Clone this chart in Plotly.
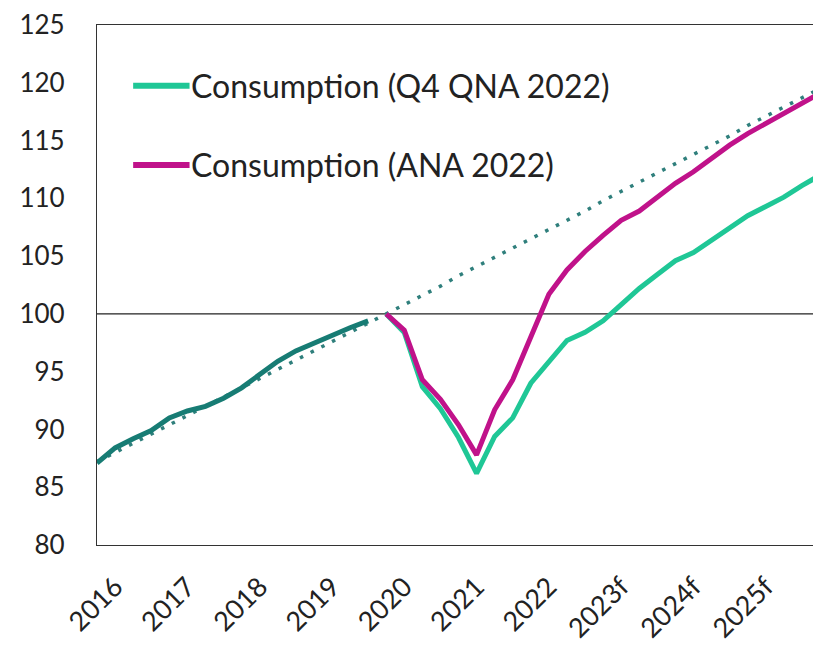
import plotly.graph_objects as go

# Quarterly observations from 2015 Q4 to 2025 Q4 (x = year fraction)
quarters = [2015.75 + 0.25 * i for i in range(41)]

year_ticks = [2016, 2017, 2018, 2019, 2020, 2021, 2022, 2023, 2024, 2025]
year_labels = ["2016", "2017", "2018", "2019", "2020", "2021", "2022", "2023f", "2024f", "2025f"]

# Pre-pandemic consumption (2015 Q4 - 2019 Q3)
pre_covid = [87.1, 88.4, 89.2, 89.9, 91.0, 91.6, 92.0, 92.7, 93.6, 94.7,
             95.9, 96.8, 97.5, 98.1, 98.8, 99.4]

# Trend (whole period)
trend = [87.2, 88.0, 88.8, 89.6, 90.4, 91.2, 92.0, 92.8, 93.6, 94.4,
         95.2, 96.0, 96.8, 97.6, 98.4, 99.2, 100.0, 100.8, 101.6, 102.4,
         103.3, 104.1, 104.9, 105.7, 106.5, 107.3, 108.1, 108.9, 109.8, 110.6,
         111.4, 112.2, 113.0, 113.8, 114.6, 115.4, 116.3, 117.1, 117.9, 118.7,
         119.5]

# From 2019 Q4 onwards
qna_2022 = [100.0, 98.4, 93.7, 91.8, 89.3, 86.2, 89.4, 91.0, 94.0, 95.9,
            97.7, 98.4, 99.4, 100.8, 102.2, 103.4, 104.6, 105.3, 106.4, 107.5,
            108.5, 109.3, 110.1, 111.1, 112.0]
ana_2022 = [100.0, 98.6, 94.3, 92.6, 90.4, 87.8, 91.7, 94.3, 98.0, 101.7,
            103.8, 105.4, 106.8, 108.1, 108.9, 110.1, 111.3, 112.3, 113.5, 114.6,
            115.6, 116.5, 117.4, 118.3, 119.1]

name_qna = "Consumption (Q4 QNA 2022)"
name_ana = "Consumption (ANA 2022)"

col_qna = "#1fc796"
col_ana = "#c0128a"
font_family = "Lato, 'Open Sans', sans-serif"

fig = go.Figure()
fig.add_trace(go.Scatter(x=quarters, y=trend, mode="lines",
                         line=dict(color="#2f7f7c", width=3.5, dash="3.5px,8.5px"),
                         showlegend=False, hoverinfo="skip"))
fig.add_trace(go.Scatter(x=quarters[:len(pre_covid)], y=pre_covid, mode="lines",
                         line=dict(color="#177c74", width=5),
                         showlegend=False))
fig.add_trace(go.Scatter(x=quarters[16:], y=qna_2022, mode="lines", name=name_qna,
                         line=dict(color=col_qna, width=5), showlegend=False))
fig.add_trace(go.Scatter(x=quarters[16:], y=ana_2022, mode="lines", name=name_ana,
                         line=dict(color=col_ana, width=5), showlegend=False))

fig.add_hline(y=100, line=dict(color="#222222", width=1.3), layer="below")

# Legend drawn inside the plot (sample line + text)
legend_items = [(name_qna, col_qna, 0.883), (name_ana, col_ana, 0.731)]
for label, col, yy in legend_items:
    fig.add_shape(type="line", xref="paper", yref="paper",
                  x0=0.050, x1=0.128, y0=yy, y1=yy,
                  line=dict(color=col, width=6))
    fig.add_annotation(xref="paper", yref="paper", x=0.127, y=yy,
                       xanchor="left", yanchor="middle", text=label,
                       showarrow=False,
                       font=dict(size=32, family=font_family, color="#222222"))

# The page body adds an 8px margin, so the figure is sized to fit the window
fig.update_layout(
    width=813, height=642,
    margin=dict(l=89, r=1, t=17, b=105),
    paper_bgcolor="white", plot_bgcolor="white",
    font=dict(family=font_family, color="#222222"),
    showlegend=False,
    xaxis=dict(range=[2015.75, 2025.75], tickmode="array",
               tickvals=year_ticks, ticktext=year_labels, tickangle=-45,
               tickfont=dict(size=27, family=font_family, color="#222222"),
               showgrid=False, zeroline=False, showline=True, linecolor="#333333",
               linewidth=1.3, mirror=True, ticks="", ticklabelstandoff=14,
               automargin=False, ticklabeloverflow="allow"),
    yaxis=dict(range=[80, 125], tickmode="array", tickvals=list(range(80, 126, 5)),
               tickfont=dict(size=26, family=font_family, color="#222222"),
               showgrid=False, zeroline=False, showline=True, linecolor="#333333",
               linewidth=1.3, mirror=True, ticks="", ticklabelstandoff=26,
               automargin=False, ticklabeloverflow="allow"),
)

fig.write_html("out.html")
